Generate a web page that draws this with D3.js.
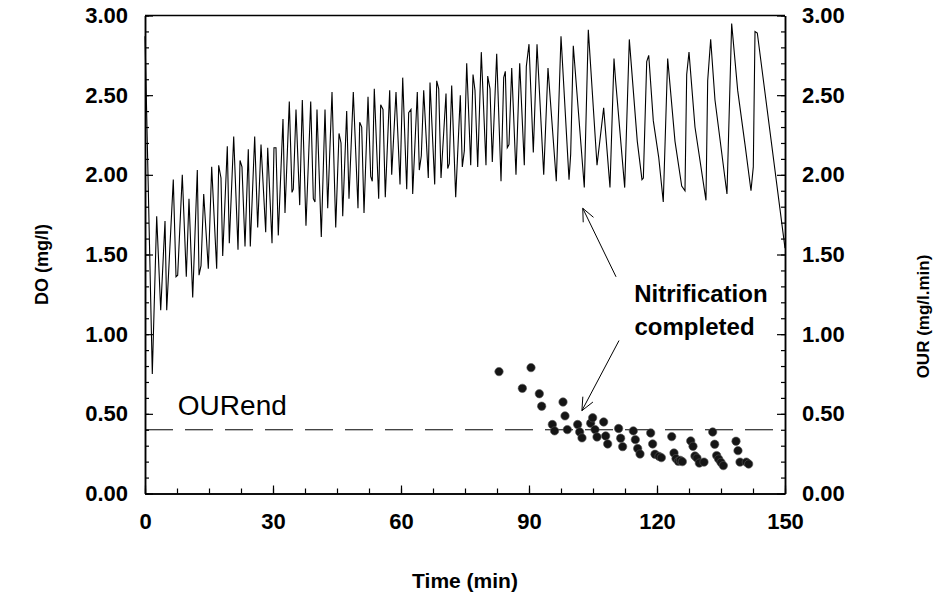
<!DOCTYPE html>
<html>
<head>
<meta charset="utf-8">
<script src="https://cdn.jsdelivr.net/npm/d3@7"></script>
<style>
  body { margin: 0; background: #fff; }
  svg text { font-family: "Liberation Sans", Arial, sans-serif; fill: #000; }
  .axis text { font-size: 22px; font-weight: bold; }
  .axis path, .axis line { stroke: #000; }
</style>
</head>
<body>
<div id="chart"></div>
<script>
// DO trace (min, mg/l)
const timeMin = [0, 1.71, 2.74, 3.68, 4.69, 5.09, 6.63, 7.27, 7.66, 8.74, 9.68, 10.31, 11.18, 12.26, 12.66, 13.13,
  13.76, 14.84, 15.63, 16.8, 17.27, 17.81, 18.21, 19.29, 19.76, 20.79, 21.8, 22.27, 22.73, 23.44, 24.21, 24.68,
  25.71, 26.41, 27.19, 28.29, 28.76, 29.77, 30.23, 30.7, 31.24, 32.34, 32.81, 33.82, 34.45, 34.76, 35.39, 36.26,
  36.87, 37.73, 38.84, 39.45, 39.84, 40.31, 41.32, 42.19, 42.82, 43.83, 44.7, 45.47, 45.94, 46.34, 47.27, 47.81,
  48.82, 49.92, 50.32, 50.79, 51.33, 52.27, 52.9, 53.27, 53.74, 54.77, 55.24, 55.78, 56.32, 57.35, 57.82, 58.83,
  59.77, 60.4, 61.34, 61.8, 62.34, 62.74, 63.82, 64.29, 64.76, 65.32, 66.4, 66.8, 67.9, 68.37, 68.84, 69.38,
  70.55, 70.95, 71.32, 71.88, 72.82, 73.9, 74.37, 74.84, 75.4, 76.34, 76.88, 77.34, 77.98, 78.82, 79.92, 80.32,
  80.86, 81.4, 82.43, 83.44, 84.07, 84.45, 84.91, 85.31, 85.95, 86.95, 87.82, 88.9, 89.37, 90.0, 91.01, 91.88,
  93.45, 94.45, 96.4, 97.5, 99.38, 99.77, 100.38, 102.96, 103.9, 105.94, 107.5, 108.98, 109.92, 110.3, 112.43,
  113.51, 115.38, 116.48, 116.8, 117.59, 118.06, 119.13, 120.4, 121.47, 122.5, 124.22, 125.79, 126.56, 126.96,
  127.5, 128.9, 131.48, 131.88, 132.58, 133.59, 136.4, 137.5, 138.91, 140.63, 142.03, 142.57, 142.97, 143.51, 150];
const doMgL = [2.87, 0.75, 1.74, 1.15, 1.71, 1.15, 1.97, 1.36, 1.37, 2.0, 1.36, 1.85, 1.23, 2.03, 1.37, 1.43,
  1.88, 1.41, 2.05, 1.41, 2.06, 1.98, 1.49, 2.18, 1.57, 2.24, 1.53, 2.09, 2.05, 1.55, 2.16, 1.55,
  2.24, 1.67, 2.19, 1.64, 2.17, 1.57, 2.17, 2.17, 1.62, 2.35, 1.76, 2.46, 1.89, 1.91, 2.41, 1.81,
  2.47, 1.68, 2.46, 1.85, 1.83, 2.41, 1.61, 2.41, 1.79, 2.52, 1.67, 2.26, 2.2, 1.74, 2.4, 1.85,
  2.52, 1.79, 2.33, 2.3, 1.76, 2.49, 1.99, 1.96, 2.54, 1.85, 2.44, 2.41, 1.86, 2.53, 2.0, 2.52,
  1.94, 2.61, 1.91, 2.39, 2.41, 1.88, 2.52, 2.03, 2.12, 2.53, 1.98, 2.58, 1.94, 2.59, 2.54, 1.98,
  2.51, 2.04, 2.07, 2.56, 1.86, 2.5, 2.05, 2.15, 2.7, 2.06, 2.63, 2.53, 2.05, 2.77, 2.06, 2.62,
  2.54, 2.08, 2.76, 1.96, 2.61, 2.65, 2.17, 2.19, 2.67, 2.0, 2.7, 2.06, 2.68, 2.82, 2.14, 2.82,
  2.0, 2.67, 1.96, 2.87, 1.97, 2.13, 2.81, 1.92, 2.91, 2.06, 2.42, 1.92, 2.73, 2.59, 1.92,
  2.85, 2.21, 1.97, 1.98, 2.71, 2.75, 2.34, 2.11, 1.83, 2.73, 2.21, 1.93, 1.9, 2.63,
  2.77, 2.3, 1.84, 2.59, 2.85, 2.47, 1.88, 2.95, 2.53, 2.19, 1.9, 2.05, 2.9, 2.89, 1.54];

// OUR measurements (min, mg/l.min)
const ourTime = [82.97, 90.47, 88.44, 92.42, 92.97, 95.47, 96.0, 97.97, 98.44, 98.98, 101.4, 101.88, 102.42,
  104.45, 104.92, 105.47, 105.94, 107.5, 107.97, 108.44, 111.0, 111.48, 111.95, 114.45, 114.92, 115.47, 116.02,
  118.52, 118.98, 119.53, 120.47, 121.02, 123.45, 123.98, 124.45, 125.0, 125.47, 125.94, 127.9, 128.44, 128.9,
  129.38, 129.92, 131.02, 133.05, 133.52, 133.98, 134.45, 135.0, 135.55, 138.52, 138.98, 139.45, 140.93, 141.48];
const ourVal = [0.765, 0.79, 0.66, 0.626, 0.548, 0.433, 0.393, 0.574, 0.487, 0.401, 0.433, 0.386, 0.349,
  0.441, 0.475, 0.401, 0.355, 0.449, 0.361, 0.311, 0.408, 0.347, 0.294, 0.393, 0.338, 0.282, 0.248,
  0.38, 0.311, 0.246, 0.233, 0.225, 0.357, 0.254, 0.219, 0.202, 0.208, 0.2, 0.33, 0.296, 0.235,
  0.222, 0.191, 0.197, 0.386, 0.309, 0.238, 0.216, 0.195, 0.175, 0.328, 0.269, 0.197, 0.197, 0.185];

const ourEnd = 0.4;
const xMajor = [0, 30, 60, 90, 120, 150];
const xMinor = d3.range(0, 150.1, 7.5);
const yMajor = [0, 0.5, 1, 1.5, 2, 2.5, 3];
const yMinor = d3.range(0, 3.01, 0.1);

const width = 935, height = 598;
const margin = {left: 145, top: 15.5, right: 150, bottom: 104.5};
const plotW = width - margin.left - margin.right;
const plotH = height - margin.top - margin.bottom;

const svg = d3.select("#chart").append("svg")
  .attr("width", width)
  .attr("height", height);

const g = svg.append("g")
  .attr("transform", `translate(${margin.left},${margin.top})`);

const x = d3.scaleLinear().domain([0, 150]).range([0, plotW]);
const y = d3.scaleLinear().domain([0, 3]).range([plotH, 0]);

// minor ticks first, then labelled majors
g.append("g").attr("class", "axis")
  .attr("transform", `translate(0,${plotH})`)
  .call(d3.axisBottom(x).tickValues(xMinor).tickSize(-5).tickSizeOuter(0).tickFormat(""));
g.append("g").attr("class", "axis")
  .attr("transform", `translate(0,${plotH})`)
  .call(d3.axisBottom(x).tickValues(xMajor).tickSize(-8).tickSizeOuter(0).tickPadding(20).tickFormat(d3.format("d")));

g.append("g").attr("class", "axis")
  .call(d3.axisLeft(y).tickValues(yMinor).tickSize(-4).tickSizeOuter(0).tickFormat(""));
g.append("g").attr("class", "axis")
  .call(d3.axisLeft(y).tickValues(yMajor).tickSize(-8).tickSizeOuter(0).tickPadding(17).tickFormat(d3.format(".2f")));

g.append("g").attr("class", "axis")
  .attr("transform", `translate(${plotW},0)`)
  .call(d3.axisRight(y).tickValues(yMinor).tickSize(-4).tickSizeOuter(0).tickFormat(""));
g.append("g").attr("class", "axis")
  .attr("transform", `translate(${plotW},0)`)
  .call(d3.axisRight(y).tickValues(yMajor).tickSize(-8).tickSizeOuter(0).tickPadding(17).tickFormat(d3.format(".2f")));

g.selectAll(".axis path").attr("stroke-width", 1.5);
g.selectAll(".axis line").attr("stroke-width", 1.2);

// top border
g.append("line")
  .attr("x1", 0).attr("x2", plotW)
  .attr("y1", 0).attr("y2", 0)
  .attr("stroke", "#000").attr("stroke-width", 1.5);

// OURend dashed line
g.append("line")
  .attr("x1", x(0)).attr("x2", x(150))
  .attr("y1", y(ourEnd)).attr("y2", y(ourEnd))
  .attr("stroke", "#000").attr("stroke-width", 1)
  .attr("stroke-dasharray", "28,12");

// DO line
const doData = timeMin.map((t, i) => [t, doMgL[i]]);
g.append("path")
  .datum(doData)
  .attr("fill", "none")
  .attr("stroke", "#000")
  .attr("stroke-width", 1.1)
  .attr("stroke-linejoin", "miter")
  .attr("d", d3.line().x(d => x(d[0])).y(d => y(d[1])));

// OUR points
g.selectAll("circle.our")
  .data(ourTime.map((t, i) => [t, ourVal[i]]))
  .enter()
  .append("circle")
  .attr("class", "our")
  .attr("cx", d => x(d[0]))
  .attr("cy", d => y(d[1]))
  .attr("r", 4.2)
  .attr("fill", "#151515")
  .attr("stroke", "#555")
  .attr("stroke-width", 0.6);

// annotation arrows (data coordinates: tail -> tip)
const arrows = [
  {from: [110.4, 1.36], to: [102.6, 1.79]},
  {from: [111.1, 0.96], to: [102.4, 0.52]}
];
arrows.forEach(a => {
  const x1 = x(a.from[0]), y1 = y(a.from[1]);
  const x2 = x(a.to[0]), y2 = y(a.to[1]);
  const ang = Math.atan2(y2 - y1, x2 - x1);
  const len = 14, spread = 0.42;
  g.append("line")
    .attr("x1", x1).attr("y1", y1).attr("x2", x2).attr("y2", y2)
    .attr("stroke", "#000").attr("stroke-width", 1);
  g.append("path")
    .attr("fill", "none").attr("stroke", "#000").attr("stroke-width", 1)
    .attr("d", `M${x2 - len * Math.cos(ang - spread)},${y2 - len * Math.sin(ang - spread)}L${x2},${y2}L${x2 - len * Math.cos(ang + spread)},${y2 - len * Math.sin(ang + spread)}`);
});

// annotation text
g.append("text")
  .attr("x", x(130.3)).attr("y", y(1.2))
  .attr("text-anchor", "middle")
  .style("font-size", "24px").style("font-weight", "bold")
  .text("Nitrification");
g.append("text")
  .attr("x", x(128.8)).attr("y", y(0.995))
  .attr("text-anchor", "middle")
  .style("font-size", "24px").style("font-weight", "bold")
  .text("completed");
g.append("text")
  .attr("x", x(7.7)).attr("y", y(0.495))
  .style("font-size", "28px")
  .text("OURend");

// axis titles
svg.append("text")
  .attr("transform", `translate(48,${margin.top + plotH / 2 + 10}) rotate(-90)`)
  .attr("text-anchor", "middle")
  .style("font-size", "18px").style("font-weight", "bold")
  .text("DO (mg/l)");
svg.append("text")
  .attr("transform", `translate(929,${margin.top + plotH / 2 + 62}) rotate(-90)`)
  .attr("text-anchor", "middle")
  .style("font-size", "17px").style("font-weight", "bold")
  .text("OUR (mg/l.min)");
svg.append("text")
  .attr("x", margin.left + plotW / 2).attr("y", 588)
  .attr("text-anchor", "middle")
  .style("font-size", "21px").style("font-weight", "bold")
  .text("Time (min)");
</script>
</body>
</html>
